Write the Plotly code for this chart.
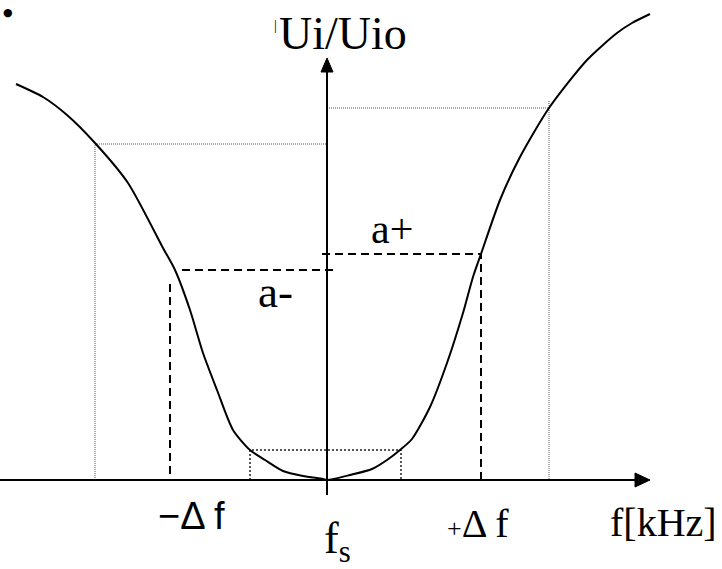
import plotly.graph_objects as go

# Frequency response |Ui/Uio| around the centre frequency fs (relative units)
f_curve = [-6.22, -5.68, -5.20, -4.64, -3.98, -3.28, -3.04, -2.74, -2.48, -2.20,
           -1.88, -1.54, -1.24, -0.88, -0.48, -0.08, 0.00, 0.46, 0.90, 1.20,
           1.46, 1.70, 2.06, 2.40, 2.72, 2.92, 3.08, 3.46, 3.86, 4.44,
           5.20, 5.80, 6.10, 6.46]
u_curve = [7.92, 7.66, 7.30, 6.74, 5.94, 4.64, 4.20, 3.40, 2.54, 1.80,
           1.00, 0.60, 0.40, 0.18, 0.08, 0.02, 0.00, 0.10, 0.22, 0.40,
           0.60, 0.82, 1.46, 2.34, 3.34, 4.06, 4.52, 5.60, 6.46, 7.44,
           8.40, 8.94, 9.14, 9.32]

# Detuning -Δf / +Δf and the corresponding amplitudes a- / a+
df_minus, a_minus = -3.14, 4.20
df_plus, a_plus = 3.08, 4.52

# Outer and inner reference points (dotted)
outer_left_f, outer_left_u = -4.64, 6.72
outer_right_f, outer_right_u = 4.44, 7.44
inner_left_f, inner_right_f, inner_u = -1.54, 1.48, 0.60

X_RANGE = [-6.54, 7.90]
Y_RANGE = [-1.78, 9.60]

fig = go.Figure()

def guide(xs, ys, dash, width=1, color="black"):
    fig.add_trace(go.Scatter(x=xs, y=ys, mode="lines", hoverinfo="skip",
                             line=dict(color=color, width=width, dash=dash)))

# dotted outer boxes
guide([outer_left_f, outer_left_f, 0], [0, outer_left_u, outer_left_u], "1px,1px", 1, "#555555")
guide([0, outer_right_f, outer_right_f], [outer_right_u, outer_right_u, 0], "1px,1px", 1, "#555555")
guide([outer_right_f, outer_right_f], [outer_right_u, outer_right_u + 0.16], "1px,1px", 1, "#555555")
# dotted inner box
guide([inner_left_f, inner_left_f, inner_right_f, inner_right_f],
      [0, inner_u, inner_u, 0], "2px,2px", 1.5, "#222222")
# dashed a- / a+ markers
guide([0.12, df_minus + 0.14], [a_minus, a_minus], "8px,5px", 2)
guide([df_minus, df_minus], [a_minus - 0.28, 0], "8px,5px", 2)
guide([-0.10, df_plus, df_plus], [a_plus, a_plus, 0], "8px,5px", 2)

# response curve
fig.add_trace(go.Scatter(x=f_curve, y=u_curve, mode="lines", hoverinfo="skip",
                         line=dict(color="black", width=2, shape="spline", smoothing=0.7)))

# axes with arrowheads
shapes = [
    dict(type="line", xref="x", yref="y", x0=X_RANGE[0], y0=0, x1=6.20, y1=0,
         line=dict(color="black", width=2)),
    dict(type="line", xref="x", yref="y", x0=0, y0=-0.30, x1=0, y1=8.20,
         line=dict(color="black", width=2)),
    dict(type="path", xref="x", yref="y", path="M 6.16 0.14 L 6.46 0 L 6.16 -0.14 Z",
         fillcolor="black", line=dict(color="black", width=1)),
    dict(type="path", xref="x", yref="y", path="M -0.12 8.16 L 0 8.44 L 0.12 8.16 Z",
         fillcolor="black", line=dict(color="black", width=1)),
]

serif = "Liberation Serif, Times New Roman, serif"
sans = "Liberation Sans, Arial, sans-serif"

def label(text, x, y, size, family=serif, xanchor="left"):
    return dict(text=text, x=x, y=y, xref="x", yref="y", showarrow=False,
                xanchor=xanchor, yanchor="middle",
                font=dict(family=family, size=size, color="black"))

annotations = [
    label("\u25cf", -6.38, 9.36, 11, "DejaVu Sans", "center"),
    label("|", -1.10, 9.10, 14),
    label("Ui/Uio", -1.00, 8.94, 46),
    label("a-", -1.42, 3.76, 45),
    label("a+", 0.84, 5.02, 42),
    label("\u2212\u0394 f", -3.42, -0.72, 38, sans),
    label("<span style='font-size:26px'>+</span>\u0394 f", 2.36, -0.86, 40),
    label("f<sub>s</sub>", -0.10, -1.22, 44),
    label("f[kHz]", 5.62, -0.84, 40),
]

fig.update_layout(
    width=722, height=569,
    margin=dict(l=0, r=0, t=0, b=0),
    paper_bgcolor="white", plot_bgcolor="white",
    showlegend=False,
    xaxis=dict(range=X_RANGE, visible=False, fixedrange=True),
    yaxis=dict(range=Y_RANGE, visible=False, fixedrange=True),
    shapes=shapes,
    annotations=annotations,
)

fig.write_html("out.html", config={"displayModeBar": False})
